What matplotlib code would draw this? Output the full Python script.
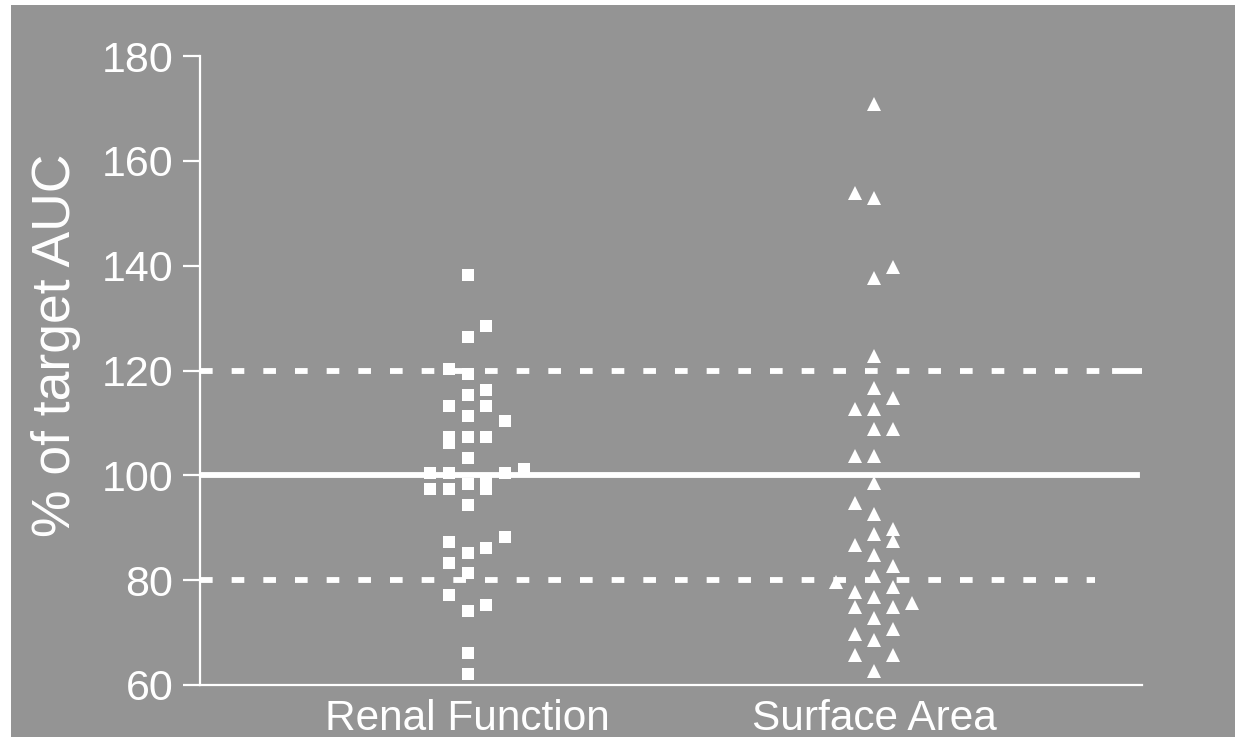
import matplotlib
matplotlib.use("Agg")
import matplotlib.pyplot as plt
from matplotlib.patches import Rectangle

plt.rcParams['font.family'] = ['Liberation Sans', 'DejaVu Sans']
plt.rcParams['lines.scale_dashes'] = False

# ---- data ----
categories = ["Renal Function", "Surface Area"]
cat_pos = [1, 2]

renal_values = [138.3, 128.4, 126.3, 120.3, 119.3, 116.3, 115.3, 113.3, 113.3, 111.3,
                110.3, 107.3, 106.2, 107.3, 107.3, 103.3, 100.4, 100.4, 100.4, 101.2,
                98.3, 99.3, 97.3, 97.3, 97.3, 94.3, 88.3, 87.2, 86.2, 85.2,
                83.2, 81.3, 77.2, 75.2, 74.2, 66.2, 62.1]
renal_slots = [0, 1, 0, -1, 0, 1, 0, -1, 1, 0,
               2, -1, -1, 0, 1, 0, -2, -1, 2, 3,
               0, 1, 1, -2, -1, 0, 2, -1, 1, 0,
               -1, 0, -1, 1, 0, 0, 0]

surface_values = [170.8, 153.8, 152.9, 139.8, 137.7, 122.8, 116.7, 114.7, 112.7, 112.7,
                  108.8, 108.8, 103.7, 103.7, 98.5, 94.8, 92.7, 89.7, 88.8, 87.5,
                  86.7, 84.8, 82.7, 79.7, 80.7, 78.7, 77.7, 76.7, 75.6, 74.8,
                  74.8, 72.7, 70.7, 69.7, 68.6, 65.8, 65.8, 62.6]
surface_slots = [0, -1, 0, 1, 0, 0, 0, 1, -1, 0,
                 0, 1, -1, 0, 0, -1, 0, 1, 0, 1,
                 -1, 0, 1, -2, 0, 1, -1, 0, 2, -1,
                 1, 0, 1, -1, 0, -1, 1, 0]

y_ticks = [60, 80, 100, 120, 140, 160, 180]
target = 100
limits = [80, 120]

# ---- figure ----
W, H = 1235, 737
fig = plt.figure(figsize=(W / 100, H / 100), dpi=100, facecolor="white")
gray = "#949494"
bg = Rectangle((11 / W, 0), 1, 1 - 5 / H, transform=fig.transFigure,
               facecolor=gray, edgecolor="none", zorder=-10)
fig.add_artist(bg)

ax = fig.add_axes([200 / W, 1 - 685 / H, 942 / W, 629 / H])
ax.set_facecolor("none")
ax.set_zorder(1)

slot_w = 18.8 / 406.3
ax.set_xlim(1 - 267.7 / 406.3, 2 + 268 / 406.3)
ax.set_ylim(60, 180)

# reference lines
ax.axhline(target, xmin=0, xmax=(1137 - 200) / 942, color="white", lw=4.2, zorder=2)
ax.axhline(limits[1], xmin=0, xmax=(1114 - 200) / 942, color="white", lw=4.2,
           linestyle=(0, (9.1, 13.7)), zorder=2)
ax.axhline(limits[1], xmin=(1115 - 200) / 942, xmax=1.0, color="white", lw=4.2,
           zorder=2)
ax.axhline(limits[0], xmin=0, xmax=(1095 - 200) / 942, color="white", lw=4.2,
           linestyle=(0, (9.1, 13.7)), zorder=2)

rx = [cat_pos[0] + s * slot_w for s in renal_slots]
sx = [cat_pos[1] + s * slot_w for s in surface_slots]
ax.plot(rx, renal_values, linestyle="none", marker="s", ms=8.2, mfc="white",
        mec="white", mew=0, zorder=3, clip_on=False)
ax.plot(sx, surface_values, linestyle="none", marker="^", ms=9.4, mfc="white",
        mec="white", mew=0, zorder=3, clip_on=False)

# axes styling
for side in ["top", "right"]:
    ax.spines[side].set_visible(False)
for side in ["left", "bottom"]:
    ax.spines[side].set_color("white")
    ax.spines[side].set_linewidth(1.6)

ax.set_yticks(y_ticks)
ax.set_yticklabels([str(t) for t in y_ticks])
ax.tick_params(axis="y", colors="white", labelcolor="white", length=12.2, width=1.6,
               pad=7, labelsize=31)
ax.set_xticks(cat_pos)
ax.set_xticklabels(categories)
ax.tick_params(axis="x", length=0, pad=10, labelcolor="white", labelsize=30.5)

fig.text(56 / W, 1 - 345 / H, "% of target AUC", rotation=90, ha="center",
         va="center", color="white", fontsize=38.5)

fig.savefig("out.png", dpi=100, facecolor=fig.get_facecolor())
